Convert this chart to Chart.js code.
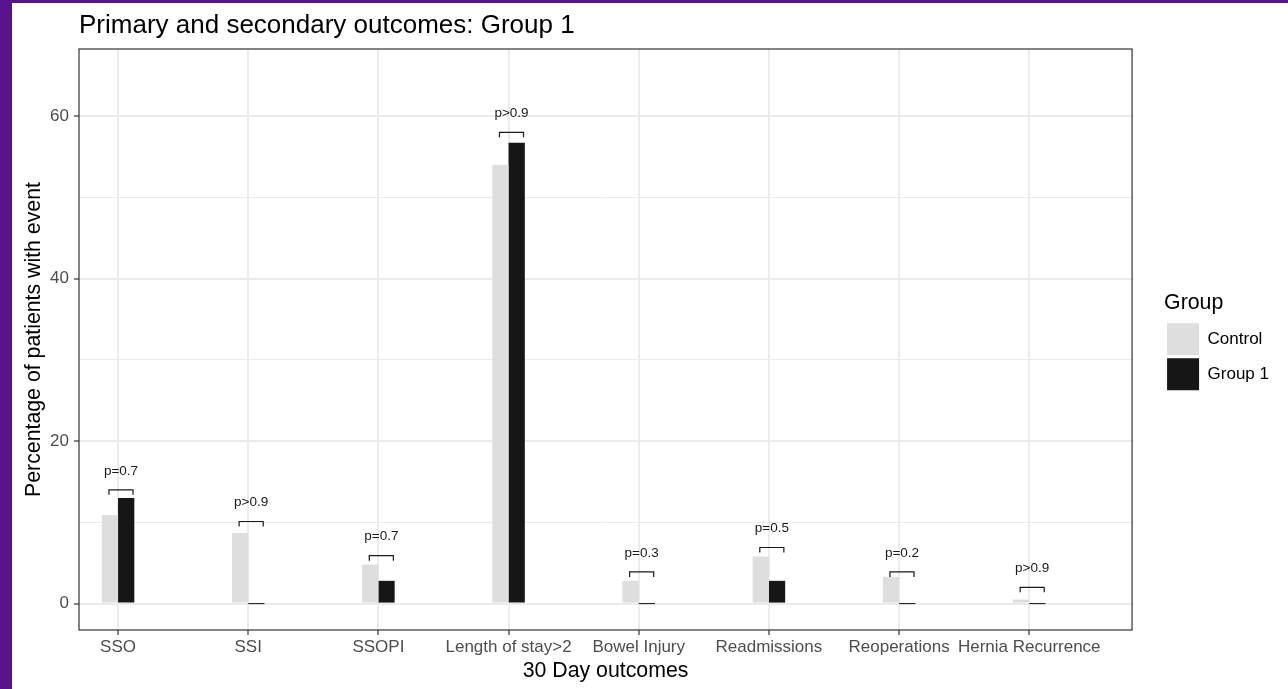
<!DOCTYPE html>
<html>
<head>
<meta charset="utf-8">
<title>Primary and secondary outcomes: Group 1</title>
<script src="https://cdn.jsdelivr.net/npm/chart.js@4.4.1/dist/chart.umd.min.js"></script>
<style>
    html, body { margin: 0; padding: 0; background: #59138e; overflow: hidden; }
    #wrap { position: absolute; left: 12px; top: 3px; width: 1276px; height: 686px; background: #ffffff; }
</style>
</head>
<body>
<div id="wrap"><canvas id="outcomesChart"></canvas></div>
<script>
// Data
const categories = ['SSO', 'SSI', 'SSOPI', 'Length of stay>2', 'Bowel Injury', 'Readmissions', 'Reoperations', 'Hernia Recurrence'];
const controlValues = [10.9, 8.7, 4.8, 54.0, 2.8, 5.8, 3.3, 0.5];
const group1Values = [13.0, 0, 2.8, 56.7, 0, 2.8, 0, 0];
const pLabels = ['p=0.7', 'p>0.9', 'p=0.7', 'p>0.9', 'p=0.3', 'p=0.5', 'p=0.2', 'p>0.9'];
const bracketHeights = [14.0, 10.1, 5.9, 58.0, 3.9, 6.9, 3.9, 2.0];
const yTicks = [0, 10, 20, 30, 40, 50, 60];

Chart.defaults.font.family = "'Liberation Sans', Arial, Helvetica, sans-serif";

// panel border on all four sides, like theme_bw
const panelBorder = {
    id: 'panelBorder',
    afterDatasetsDraw(chart) {
        const { ctx, chartArea: a } = chart;
        ctx.save();
        ctx.strokeStyle = '#333333';
        ctx.lineWidth = 1.2;
        ctx.strokeRect(a.left, a.top, a.right - a.left, a.bottom - a.top);
        ctx.restore();
    }
};

// significance brackets with p-values
const pBrackets = {
    id: 'pBrackets',
    afterDatasetsDraw(chart) {
        const { ctx, scales: { x, y } } = chart;
        ctx.save();
        ctx.strokeStyle = '#1a1a1a';
        ctx.fillStyle = '#1a1a1a';
        ctx.lineWidth = 1.2;
        ctx.font = "13.5px 'Liberation Sans', Arial, sans-serif";
        ctx.textAlign = 'center';
        ctx.textBaseline = 'middle';
        categories.forEach((c, i) => {
            const x1 = x.getPixelForValue(i - 0.07);
            const x2 = x.getPixelForValue(i + 0.115);
            const yp = y.getPixelForValue(bracketHeights[i]);
            ctx.beginPath();
            ctx.moveTo(x1, yp + 5);
            ctx.lineTo(x1, yp);
            ctx.lineTo(x2, yp);
            ctx.lineTo(x2, yp + 5);
            ctx.stroke();
            ctx.fillText(pLabels[i], (x1 + x2) / 2, yp - 19);
        });
        ctx.restore();
    }
};

const ctx = document.getElementById('outcomesChart').getContext('2d');
const outcomesChart = new Chart(ctx, {
    type: 'bar',
    data: {
        datasets: [
            {
                label: 'Control',
                data: controlValues.map((v, i) => ({ x: i, y: v })),
                backgroundColor: '#dedede',
                borderWidth: 0,
                minBarLength: 1
            },
            {
                label: 'Group 1',
                data: group1Values.map((v, i) => ({ x: i, y: v })),
                backgroundColor: '#161616',
                borderWidth: 0,
                minBarLength: 1
            }
        ]
    },
    options: {
        responsive: true,
        maintainAspectRatio: false,
        animation: false,
        layout: { padding: { left: 0, top: 0, right: 9, bottom: 6 } },
        datasets: { bar: { barPercentage: 1, categoryPercentage: 0.25 } },
        scales: {
            x: {
                type: 'linear',
                min: -0.3,
                max: 7.79,
                offset: false,
                afterBuildTicks: s => { s.ticks = categories.map((c, i) => ({ value: i })); },
                afterFit: s => { s.height = 53; },
                grid: { offset: false, color: '#ebebeb', lineWidth: 2, tickColor: '#333333', tickLength: 5, tickWidth: 1.2 },
                border: { display: false },
                ticks: {
                    callback: v => categories[v],
                    autoSkip: false,
                    maxRotation: 0,
                    color: '#4d4d4d',
                    font: { size: 17, lineHeight: 1 },
                    padding: 4
                },
                title: {
                    display: true,
                    text: '30 Day outcomes',
                    color: '#000000',
                    font: { size: 21.3, lineHeight: 1 },
                    padding: { top: 0, bottom: 1 }
                }
            },
            y: {
                min: -3.25,
                max: 68.25,
                afterBuildTicks: s => { s.ticks = yTicks.map(v => ({ value: v })); },
                afterFit: s => { s.width = 67; },
                grid: {
                    color: '#ebebeb',
                    lineWidth: c => (c.tick && c.tick.value % 20 === 0 ? 2 : 1),
                    tickColor: c => (c.tick && c.tick.value % 20 === 0 ? '#333333' : 'rgba(0,0,0,0)'),
                    tickLength: 5,
                    tickWidth: 1.2
                },
                border: { display: false },
                ticks: {
                    callback: v => (v % 20 === 0 ? v : ''),
                    color: '#4d4d4d',
                    font: { size: 17, lineHeight: 1 },
                    padding: 5
                },
                title: {
                    display: true,
                    text: 'Percentage of patients with event',
                    color: '#000000',
                    font: { size: 21.3, lineHeight: 1 },
                    padding: { top: 11, bottom: 0 }
                }
            },
            gap: {
                type: 'linear',
                position: 'right',
                display: true,
                grid: { display: false, drawTicks: false },
                border: { display: false },
                ticks: { display: false },
                afterFit: s => { s.width = 32; }
            }
        },
        plugins: {
            title: {
                display: true,
                text: 'Primary and secondary outcomes: Group 1',
                align: 'start',
                fullSize: false,
                color: '#000000',
                font: { size: 26, weight: 'normal', lineHeight: 1 },
                padding: { top: 10, bottom: 10 }
            },
            legend: {
                position: 'right',
                align: 'center',
                title: {
                    display: true,
                    text: 'Group',
                    position: 'start',
                    color: '#000000',
                    font: { size: 21.3, lineHeight: 1 },
                    padding: { top: 0, bottom: 6 }
                },
                labels: {
                    boxWidth: 32,
                    boxHeight: 32,
                    padding: 3,
                    color: '#000000',
                    font: { size: 17, lineHeight: 1 }
                }
            },
            tooltip: { enabled: false }
        }
    },
    plugins: [panelBorder, pBrackets]
});
</script>
</body>
</html>
